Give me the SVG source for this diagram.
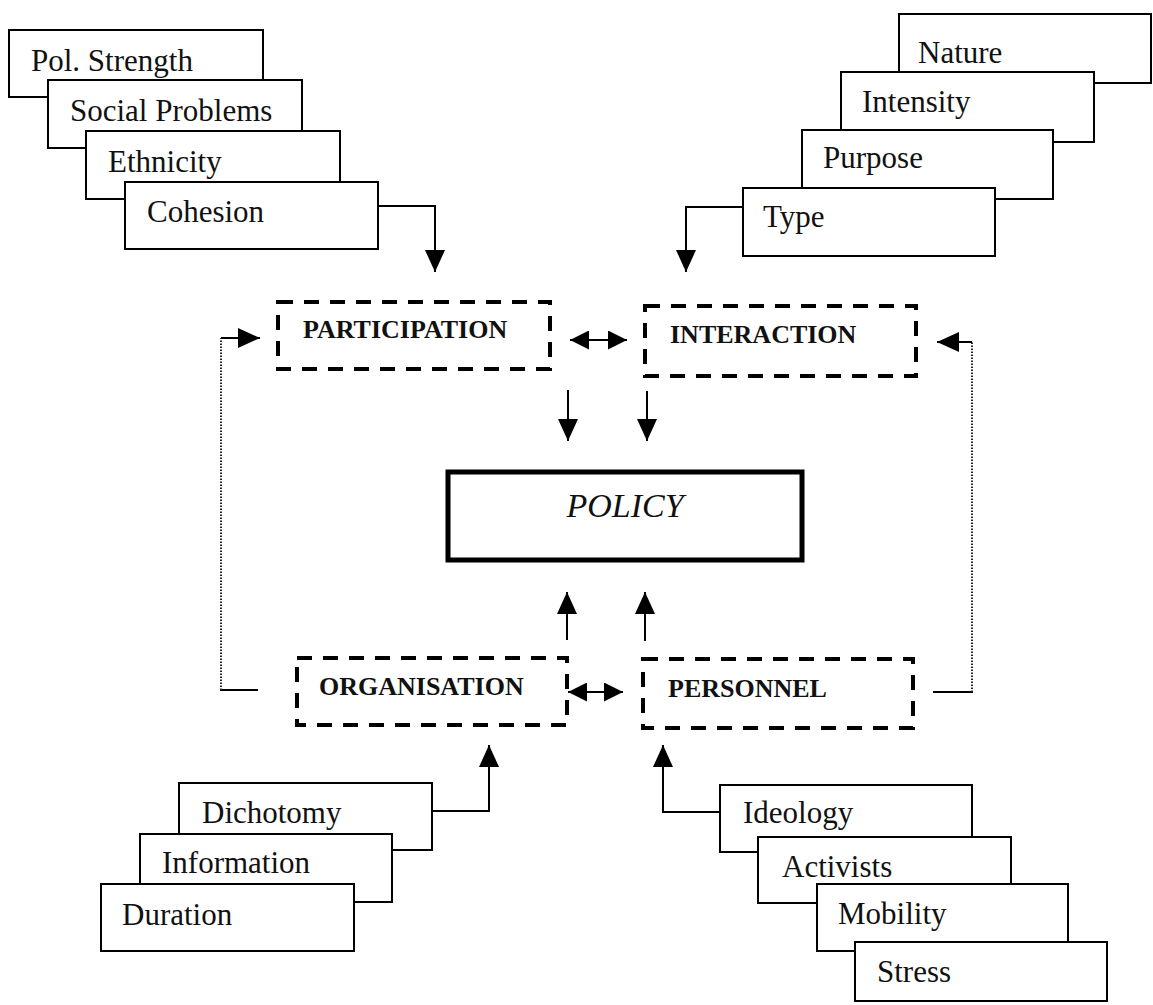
<svg xmlns="http://www.w3.org/2000/svg" width="1153" height="1005" viewBox="0 0 1153 1005">
  <style>
    .bg { fill: #ffffff; }
    .box { fill: #ffffff; stroke: #000; stroke-width: 2; }
    .dash { fill: none; stroke: #000; stroke-width: 4; stroke-dasharray: 15 11; }
    .policy { fill: #ffffff; stroke: #000; stroke-width: 5; }
    .lbl { font-family: "Liberation Serif", "Times New Roman", serif; font-size: 31px; fill: #111; }
    .key { font-family: "Liberation Serif", "Times New Roman", serif; font-size: 26px; font-weight: bold; fill: #111; }
    .title { font-family: "Liberation Serif", "Times New Roman", serif; font-size: 34px; font-style: italic; fill: #111; }
    .link { fill: none; stroke: #000; stroke-width: 2; }
    .dot { fill: none; stroke: #222; stroke-width: 2; stroke-dasharray: 1.5 1.5; }
  </style>
  <defs>
    <marker id="head" markerUnits="userSpaceOnUse" markerWidth="22" markerHeight="20" refX="22" refY="10" orient="auto-start-reverse" viewBox="0 0 22 20">
      <path d="M0,0 L22,10 L0,20 Z" fill="#000"/>
    </marker>
    <marker id="headS" markerUnits="userSpaceOnUse" markerWidth="19" markerHeight="19" refX="19" refY="9.5" orient="auto-start-reverse" viewBox="0 0 19 19">
      <path d="M0,0 L19,9.5 L0,19 Z" fill="#000"/>
    </marker>
  </defs>
  <rect class="bg" x="0" y="0" width="1153" height="1005"/>

  <!-- participation factors -->
  <g id="pol-strength"><rect class="box" x="9" y="30" width="254" height="67"/><text class="lbl" x="31" y="71">Pol. Strength</text></g>
  <g id="social-problems"><rect class="box" x="48" y="80" width="254" height="68"/><text class="lbl" x="70" y="121">Social Problems</text></g>
  <g id="ethnicity"><rect class="box" x="86" y="131" width="254" height="68"/><text class="lbl" x="108" y="172">Ethnicity</text></g>
  <g id="cohesion"><rect class="box" x="125" y="182" width="253" height="67"/><text class="lbl" x="147" y="222">Cohesion</text></g>

  <!-- interaction factors -->
  <g id="nature"><rect class="box" x="899" y="14" width="252" height="69"/><text class="lbl" x="918" y="63">Nature</text></g>
  <g id="intensity"><rect class="box" x="841" y="72" width="253" height="70"/><text class="lbl" x="862" y="112">Intensity</text></g>
  <g id="purpose"><rect class="box" x="802" y="130" width="251" height="69"/><text class="lbl" x="823" y="168">Purpose</text></g>
  <g id="type"><rect class="box" x="743" y="188" width="252" height="68"/><text class="lbl" x="763" y="227">Type</text></g>

  <!-- organisation factors -->
  <g id="dichotomy"><rect class="box" x="179" y="783" width="253" height="67"/><text class="lbl" x="202" y="823">Dichotomy</text></g>
  <g id="information"><rect class="box" x="140" y="834" width="252" height="68"/><text class="lbl" x="162" y="873">Information</text></g>
  <g id="duration"><rect class="box" x="101" y="884" width="253" height="67"/><text class="lbl" x="122" y="925">Duration</text></g>

  <!-- personnel factors -->
  <g id="ideology"><rect class="box" x="720" y="785" width="252" height="67"/><text class="lbl" x="743" y="823">Ideology</text></g>
  <g id="activists"><rect class="box" x="758" y="837" width="253" height="66"/><text class="lbl" x="782" y="877">Activists</text></g>
  <g id="mobility"><rect class="box" x="817" y="884" width="251" height="67"/><text class="lbl" x="838" y="924">Mobility</text></g>
  <g id="stress"><rect class="box" x="855" y="942" width="252" height="59"/><text class="lbl" x="877" y="982">Stress</text></g>

  <!-- core dimensions -->
  <g id="participation"><rect class="dash" x="278" y="302" width="272" height="67"/><text class="key" x="303" y="338">PARTICIPATION</text></g>
  <g id="interaction"><rect class="dash" x="645" y="306" width="271" height="70"/><text class="key" x="670" y="343">INTERACTION</text></g>
  <g id="organisation"><rect class="dash" x="297" y="658" width="270" height="67"/><text class="key" x="319" y="695">ORGANISATION</text></g>
  <g id="personnel"><rect class="dash" x="643" y="659" width="270" height="69"/><text class="key" x="668" y="697">PERSONNEL</text></g>

  <!-- outcome -->
  <g id="policy"><rect class="policy" x="448" y="472" width="354" height="88"/><text class="title" x="625" y="517" text-anchor="middle">POLICY</text></g>

  <g id="connectors">
    <!-- factor stacks into dimensions -->
    <polyline class="link" points="378,206 435,206 435,272" marker-end="url(#head)"/>
    <polyline class="link" points="743,207 686,207 686,272" marker-end="url(#head)"/>
    <polyline class="link" points="432,811 489,811 489,745" marker-end="url(#head)"/>
    <polyline class="link" points="720,812 663,812 663,745" marker-end="url(#head)"/>

    <!-- dimensions into policy -->
    <line class="link" x1="568" y1="390" x2="568" y2="441" marker-end="url(#head)"/>
    <line class="link" x1="647" y1="391" x2="647" y2="441" marker-end="url(#head)"/>
    <line class="link" x1="567" y1="640" x2="567" y2="592" marker-end="url(#head)"/>
    <line class="link" x1="645" y1="641" x2="645" y2="592" marker-end="url(#head)"/>

    <!-- mutual links -->
    <line class="link" x1="570" y1="340" x2="627" y2="340" marker-start="url(#headS)" marker-end="url(#headS)"/>
    <line class="link" x1="568" y1="692" x2="623" y2="692" marker-start="url(#headS)" marker-end="url(#headS)"/>

    <!-- feedback loops -->
    <line class="link" x1="258" y1="690" x2="220" y2="690"/>
    <line class="dot" x1="221" y1="690" x2="221" y2="338"/>
    <line class="link" x1="221" y1="338" x2="260" y2="338" marker-end="url(#head)"/>

    <line class="link" x1="933" y1="692" x2="973" y2="692"/>
    <line class="dot" x1="972" y1="692" x2="972" y2="342"/>
    <line class="link" x1="972" y1="342" x2="937" y2="342" marker-end="url(#head)"/>
  </g>
</svg>
